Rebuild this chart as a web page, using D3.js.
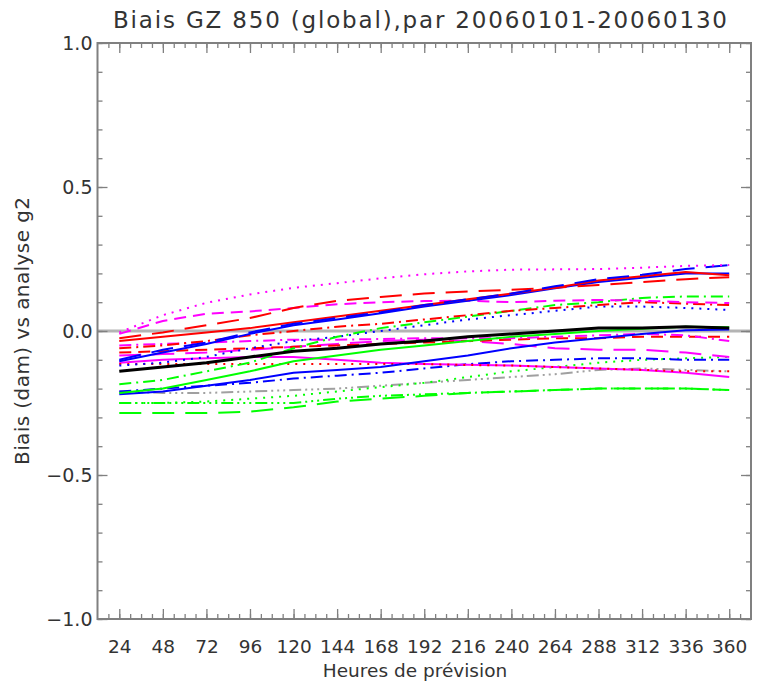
<!DOCTYPE html>
<html>
<head>
<meta charset="utf-8">
<script src="https://cdn.jsdelivr.net/npm/d3@7"></script>
<style>
  html, body { margin: 0; padding: 0; background: #fff; }
  svg { display: block; }
</style>
</head>
<body>
<svg id="chart" width="757" height="682"></svg>
<script>
// Forecast lead times (hours) and y tick values
const hours = [24, 48, 72, 96, 120, 144, 168, 192, 216, 240, 264, 288, 312, 336, 360];
const yMajor = [-1.0, -0.5, 0.0, 0.5, 1.0];

// Bias per lead time, one array per curve
const magentaDot   = [-0.005, 0.055, 0.098, 0.127, 0.150, 0.166, 0.183, 0.197, 0.207, 0.213, 0.214, 0.215, 0.220, 0.226, 0.229];
const redLong      = [-0.025, -0.005, 0.020, 0.045, 0.080, 0.105, 0.118, 0.130, 0.137, 0.143, 0.150, 0.160, 0.170, 0.180, 0.187];
const redSolid     = [-0.035, -0.020, -0.005, 0.010, 0.030, 0.050, 0.070, 0.090, 0.110, 0.130, 0.150, 0.175, 0.190, 0.205, 0.194];
const blueLong     = [-0.100, -0.065, -0.040, -0.005, 0.025, 0.045, 0.065, 0.090, 0.110, 0.130, 0.155, 0.180, 0.195, 0.215, 0.229];
const blueSolidUp  = [-0.105, -0.075, -0.045, -0.010, 0.020, 0.040, 0.062, 0.085, 0.105, 0.125, 0.148, 0.170, 0.185, 0.200, 0.200];
const magentaDash  = [-0.010, 0.035, 0.060, 0.068, 0.080, 0.093, 0.100, 0.104, 0.105, 0.100, 0.105, 0.108, 0.105, 0.100, 0.097];
const redDashDot   = [-0.060, -0.050, -0.035, -0.015, 0.000, 0.015, 0.025, 0.040, 0.055, 0.070, 0.080, 0.090, 0.100, 0.095, 0.090];
const greenDashDot = [-0.185, -0.170, -0.140, -0.110, -0.060, -0.020, 0.010, 0.030, 0.050, 0.070, 0.090, 0.100, 0.115, 0.120, 0.120];
const blueDot      = [-0.120, -0.110, -0.090, -0.060, -0.035, -0.020, 0.000, 0.020, 0.040, 0.055, 0.070, 0.085, 0.085, 0.080, 0.073];
const black        = [-0.140, -0.125, -0.110, -0.090, -0.070, -0.060, -0.045, -0.035, -0.020, -0.010, 0.000, 0.010, 0.010, 0.015, 0.010];
const greenSolid   = [-0.215, -0.200, -0.170, -0.140, -0.105, -0.085, -0.065, -0.050, -0.035, -0.020, -0.010, 0.000, 0.008, 0.015, 0.013];
const blueSolidLow = [-0.220, -0.210, -0.190, -0.170, -0.145, -0.135, -0.125, -0.105, -0.085, -0.060, -0.040, -0.025, -0.010, 0.003, 0.005];
const magentaDashDot = [-0.050, -0.045, -0.040, -0.035, -0.030, -0.030, -0.028, -0.025, -0.025, -0.025, -0.020, -0.015, -0.010, -0.015, -0.035];
const redDash      = [-0.075, -0.070, -0.065, -0.060, -0.055, -0.050, -0.045, -0.040, -0.035, -0.030, -0.025, -0.025, -0.020, -0.020, -0.020];
const magentaLong  = [-0.085, -0.080, -0.075, -0.065, -0.055, -0.045, -0.035, -0.030, -0.035, -0.045, -0.060, -0.065, -0.065, -0.075, -0.090];
const blueDashDot  = [-0.210, -0.200, -0.190, -0.180, -0.165, -0.155, -0.145, -0.130, -0.115, -0.105, -0.100, -0.095, -0.095, -0.100, -0.100];
const greenDot     = [-0.250, -0.250, -0.245, -0.235, -0.225, -0.210, -0.195, -0.180, -0.160, -0.140, -0.125, -0.110, -0.100, -0.095, -0.090];
const redDot       = [-0.115, -0.115, -0.115, -0.115, -0.115, -0.115, -0.115, -0.115, -0.118, -0.120, -0.125, -0.130, -0.135, -0.140, -0.140];
const magentaSolid = [-0.110, -0.100, -0.095, -0.090, -0.090, -0.100, -0.110, -0.115, -0.117, -0.120, -0.125, -0.130, -0.135, -0.145, -0.160];
const gray3Dot     = [-0.210, -0.215, -0.215, -0.210, -0.205, -0.200, -0.190, -0.180, -0.170, -0.160, -0.150, -0.135, -0.130, -0.135, -0.140];
const green3Dot    = [-0.250, -0.250, -0.250, -0.250, -0.250, -0.235, -0.225, -0.220, -0.215, -0.210, -0.205, -0.200, -0.200, -0.200, -0.205];
const greenLong    = [-0.285, -0.285, -0.285, -0.280, -0.265, -0.245, -0.235, -0.225, -0.215, -0.210, -0.205, -0.200, -0.200, -0.200, -0.205];

// IDL-like line styles
const DASH = {
  solid: null,
  dot: "2,6",
  dash: "12,7",
  dashDot: "12,5,2,5",
  dash3Dot: "12,4,2,4,2,4,2,4",
  long: "22,11"
};

const RED = "#ff0000", MAG = "#ff00ff", BLUE = "#0000ff", GREEN = "#00ff00", GRAY = "#a0a0a0";

const series = [
  { v: greenLong, c: GREEN, s: "long" },
  { v: green3Dot, c: GREEN, s: "dash3Dot" },
  { v: gray3Dot, c: GRAY, s: "dash3Dot" },
  { v: greenDot, c: GREEN, s: "dot" },
  { v: blueDashDot, c: BLUE, s: "dashDot" },
  { v: magentaSolid, c: MAG, s: "solid" },
  { v: redDot, c: RED, s: "dot" },
  { v: magentaLong, c: MAG, s: "long" },
  { v: redDash, c: RED, s: "dash" },
  { v: magentaDashDot, c: MAG, s: "dashDot" },
  { v: blueSolidLow, c: BLUE, s: "solid" },
  { v: greenSolid, c: GREEN, s: "solid" },
  { v: blueDot, c: BLUE, s: "dot" },
  { v: greenDashDot, c: GREEN, s: "dashDot" },
  { v: redDashDot, c: RED, s: "dashDot" },
  { v: magentaDash, c: MAG, s: "dash" },
  { v: blueSolidUp, c: BLUE, s: "solid" },
  { v: redSolid, c: RED, s: "solid" },
  { v: redLong, c: RED, s: "long" },
  { v: blueLong, c: BLUE, s: "long" },
  { v: magentaDot, c: MAG, s: "dot" },
  { v: black, c: "#000000", s: "solid", w: 3 }
];

const W = 757, H = 682;
const M = { top: 43, right: 6, bottom: 63, left: 97.5 };
const IW = W - M.left - M.right;
const IH = H - M.top - M.bottom;
const INK = "#333";
const AXIS = "#808080";
const FONT = "'DejaVu Sans', 'Liberation Sans', sans-serif";

const svg = d3.select("#chart");
const g = svg.append("g").attr("transform", `translate(${M.left},${M.top})`);

const x = d3.scaleLinear().domain([12, 372]).range([0, IW]);
const y = d3.scaleLinear().domain([-1, 1]).range([IH, 0]);

// zero reference
g.append("line")
  .attr("x1", 0).attr("x2", IW)
  .attr("y1", y(0)).attr("y2", y(0))
  .attr("stroke", "#b4b4b4").attr("stroke-width", 3);

// curves
const line = d3.line().x((d, i) => x(hours[i])).y(d => y(d));
for (const s of series) {
  g.append("path").datum(s.v)
    .attr("d", line)
    .attr("fill", "none")
    .attr("stroke", s.c)
    .attr("stroke-width", s.w || 2)
    .attr("stroke-dasharray", DASH[s.s]);
}

// frame with inward ticks on all four sides
const xMinor = d3.range(18, 372, 6);
const yMinor = d3.range(-1, 1.0001, 0.1).map(v => +v.toFixed(2));

const styleAxis = ax => {
  ax.select(".domain").remove();
  ax.selectAll(".tick line").attr("stroke", AXIS).attr("stroke-width", 1.3);
};

g.append("g").attr("transform", `translate(0,${IH})`)
  .call(d3.axisBottom(x).tickValues(xMinor).tickSize(-5).tickFormat(""))
  .call(styleAxis);
g.append("g").attr("transform", `translate(0,${IH})`)
  .call(d3.axisBottom(x).tickValues(hours).tickSize(-10).tickFormat(d3.format("d")))
  .call(styleAxis)
  .call(ax => ax.selectAll(".tick text")
    .attr("font-family", FONT).attr("font-size", "18.5px").attr("fill", INK)
    .attr("dy", "0").attr("y", 34));
g.append("g")
  .call(d3.axisTop(x).tickValues(xMinor).tickSize(-5).tickFormat(""))
  .call(styleAxis);
g.append("g")
  .call(d3.axisTop(x).tickValues(hours).tickSize(-10).tickFormat(""))
  .call(styleAxis);

g.append("g")
  .call(d3.axisLeft(y).tickValues(yMinor).tickSize(-5).tickFormat(""))
  .call(styleAxis);
g.append("g")
  .call(d3.axisLeft(y).tickValues(yMajor).tickSize(-10)
    .tickFormat(d => d3.format(".1f")(d).replace("-", "\u2212")))
  .call(styleAxis)
  .call(ax => ax.selectAll(".tick text")
    .attr("font-family", FONT).attr("font-size", "19px").attr("fill", INK)
    .attr("x", -5));
g.append("g").attr("transform", `translate(${IW},0)`)
  .call(d3.axisRight(y).tickValues(yMinor).tickSize(-5).tickFormat(""))
  .call(styleAxis);
g.append("g").attr("transform", `translate(${IW},0)`)
  .call(d3.axisRight(y).tickValues(yMajor).tickSize(-10).tickFormat(""))
  .call(styleAxis);

g.append("rect")
  .attr("x", 0).attr("y", 0).attr("width", IW).attr("height", IH)
  .attr("fill", "none").attr("stroke", AXIS).attr("stroke-width", 2);

// titles
svg.append("text")
  .attr("x", 420).attr("y", 28)
  .attr("text-anchor", "middle")
  .attr("font-family", FONT).attr("font-size", "23px").attr("fill", INK)
  .attr("textLength", 614).attr("lengthAdjust", "spacing")
  .text("Biais GZ 850 (global),par 20060101-20060130");

svg.append("text")
  .attr("x", 415).attr("y", 677)
  .attr("text-anchor", "middle")
  .attr("font-family", FONT).attr("font-size", "18.5px").attr("fill", INK)
  .text("Heures de prévision");

svg.append("text")
  .attr("transform", `translate(29,${M.top + y(0)}) rotate(-90)`)
  .attr("text-anchor", "middle")
  .attr("font-family", FONT).attr("font-size", "20px").attr("fill", INK)
  .attr("textLength", 268).attr("lengthAdjust", "spacing")
  .text("Biais (dam) vs analyse g2");
</script>
</body>
</html>
